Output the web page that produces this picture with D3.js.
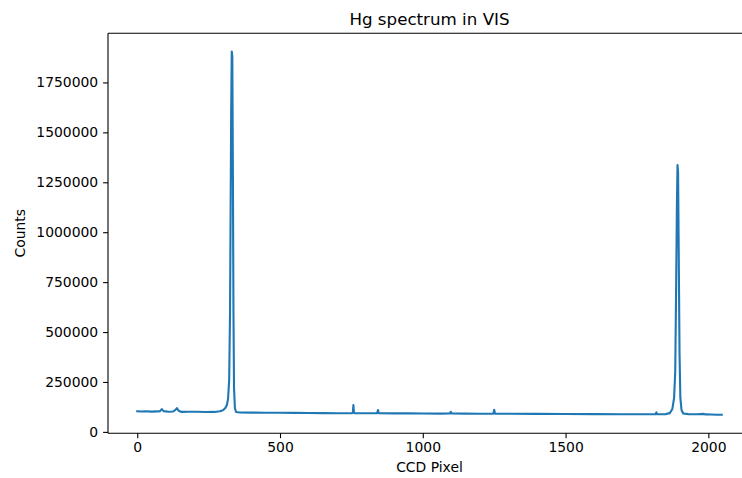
<!DOCTYPE html>
<html><head><meta charset="utf-8">
<script src="https://cdn.jsdelivr.net/npm/d3@7"></script>
<style>body{margin:0;background:#fff}svg{display:block}text{font-family:"DejaVu Sans",sans-serif;fill:#000}</style>
</head><body>
<svg id="c" width="742" height="478"></svg>
<script>
const pixels = [0,15,30,50,70,80,86,92,110,125,134,139,145,155,180,210,240,270,290,300,308,314,318,322,325,327,329,331,333,335,337,339,342,346,360,400,450,500,550,600,650,700,752,755,757,759,762,800,840,843,846,900,950,1000,1060,1095,1098,1101,1150,1200,1247,1250,1253,1300,1400,1500,1600,1700,1800,1815,1818,1821,1850,1865,1874,1880,1884,1887,1890,1892,1894,1896,1899,1902,1906,1912,1930,1960,1985,1990,2010,2030,2047];
const counts = [103000,102000,103500,101500,102500,104000,114000,104000,101000,102000,110000,119000,106000,100000,100500,101000,99500,100000,103000,108000,118000,135000,165000,260000,600000,1100000,1600000,1905000,1880000,1300000,600000,220000,120000,100000,97000,96500,96000,95500,95000,94500,94000,93500,93000,96000,134000,96000,93000,93000,93000,109000,93000,92500,92500,92000,91500,92500,101000,92500,91500,91000,91000,111000,91000,90500,90000,89500,89000,88500,88000,88500,98000,88500,89000,94000,115000,170000,300000,700000,1150000,1336000,1300000,950000,400000,170000,110000,92000,89000,88000,90000,87500,87000,86000,86000];
const xTicks = [0,500,1000,1500,2000];
const yTicks = [0,250000,500000,750000,1000000,1250000,1500000,1750000];
const title = "Hg spectrum in VIS", xLabel = "CCD Pixel", yLabel = "Counts";

const data = pixels.map((p,i)=>({x:p,y:counts[i]}));
const L=108,R=751,T=33.3,B=433.3;
const pad=(a,b)=>{const d=(b-a)*0.05;return [a-d,b+d];};
const x=d3.scaleLinear().domain(pad(0,2047)).range([L,R]);
const y=d3.scaleLinear().domain(pad(d3.min(counts)-2000,d3.max(counts))).range([B,T]);
const svg=d3.select("#c");

svg.append("path").datum(data)
  .attr("d",d3.line().x(d=>x(d.x)).y(d=>y(d.y)))
  .attr("fill","none").attr("stroke","#1f77b4").attr("stroke-width",2.1)
  .attr("stroke-linejoin","round").attr("stroke-linecap","square");

const xa=svg.append("g").attr("transform",`translate(0,${B})`)
  .call(d3.axisBottom(x).tickValues(xTicks).tickFormat(d3.format("d")).tickSize(4.9).tickPadding(4.2).tickSizeOuter(0));
const ya=svg.append("g").attr("transform",`translate(${L},0)`)
  .call(d3.axisLeft(y).tickValues(yTicks).tickFormat(d3.format("d")).tickSize(4.9).tickPadding(4.9).tickSizeOuter(0));
[xa,ya].forEach(a=>{a.selectAll("text").style("font-size","13.9px").attr("fill","#000");
  a.selectAll("line").attr("stroke","#000").attr("stroke-width",1.1);
  a.select(".domain").remove();});

svg.append("line").attr("x1",L).attr("x2",R).attr("y1",B).attr("y2",B).attr("stroke","#000").attr("stroke-width",1.1);
svg.append("line").attr("x1",L).attr("x2",R).attr("y1",T).attr("y2",T).attr("stroke","#000").attr("stroke-width",1.1);
svg.append("line").attr("x1",L).attr("x2",L).attr("y1",T).attr("y2",B).attr("stroke","#000").attr("stroke-width",1.1);
svg.append("line").attr("x1",R).attr("x2",R).attr("y1",T).attr("y2",B).attr("stroke","#000").attr("stroke-width",1.1);

svg.append("text").attr("x",(L+R)/2).attr("y",25).attr("text-anchor","middle").style("font-size","16.7px").text(title);
svg.append("text").attr("x",(L+R)/2).attr("y",472).attr("text-anchor","middle").style("font-size","13.9px").text(xLabel);
svg.append("text").attr("transform",`translate(25,${(T+B)/2}) rotate(-90)`).attr("text-anchor","middle").style("font-size","13.9px").text(yLabel);
</script>
</body></html>
